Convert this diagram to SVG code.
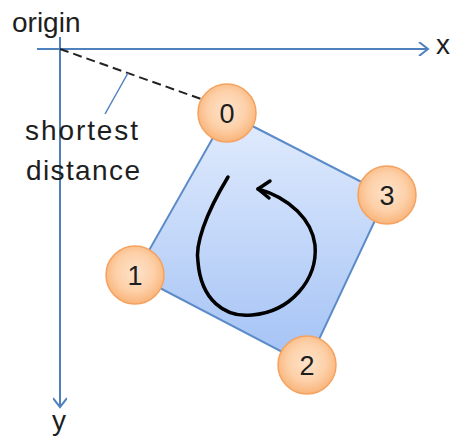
<svg xmlns="http://www.w3.org/2000/svg" width="457" height="438" viewBox="0 0 457 438">
<defs>
<linearGradient id="sq" x1="0" y1="0" x2="0" y2="1">
<stop offset="0" stop-color="#e2ecfd"/>
<stop offset="1" stop-color="#a3c2f5"/>
</linearGradient>
<radialGradient id="ci" cx="0.5" cy="0.45" r="0.55">
<stop offset="0" stop-color="#fee3cb"/>
<stop offset="0.6" stop-color="#fdd0a8"/>
<stop offset="1" stop-color="#f9b47a"/>
</radialGradient>
<marker id="open" markerWidth="14" markerHeight="14" refX="11" refY="7" orient="auto" markerUnits="userSpaceOnUse">
<path d="M2,0 L11,7 L2,14" fill="none" stroke="#4f81bd" stroke-width="2"/>
</marker>
</defs>
<style>
.lbl{font-family:"Liberation Sans",Arial,sans-serif;font-size:28px;fill:#1e1e1e}
.num{font-family:"Liberation Sans",Arial,sans-serif;font-size:27px;fill:#1e1e1e;text-anchor:middle}
.axis{stroke:#4f81bd;stroke-width:2;fill:none}
.corner{fill:url(#ci);stroke:#f5a25f;stroke-width:1.5}
</style>
<g id="connectors">
<line class="axis" x1="37" y1="49" x2="428" y2="49" marker-end="url(#open)"/>
<line class="axis" x1="60" y1="37" x2="60" y2="407" marker-end="url(#open)"/>
<line x1="60" y1="49" x2="201" y2="99" stroke="#222" stroke-width="2" stroke-dasharray="9,5"/>
<line x1="128" y1="73" x2="105" y2="114" stroke="#4f81bd" stroke-width="1.5"/>
</g>
<g id="square">
<polygon points="227,113 387,195 307,365 135,275" fill="url(#sq)" stroke="#5b8bc8" stroke-width="2"/>
<path d="M228,177 C205,215 195,245 198,262 C201,300 225,318 252,315 C290,312 318,280 315,245 C312,220 290,198 258,189" fill="none" stroke="#000" stroke-width="3.5" stroke-linecap="round"/>
<path d="M270,181 L258,189 L269,198" fill="none" stroke="#000" stroke-width="3.5" stroke-linecap="round" stroke-linejoin="round"/>
</g>
<g id="labels">
<text class="lbl" x="12" y="32">origin</text>
<text class="lbl" x="436" y="54">x</text>
<text class="lbl" x="52" y="430">y</text>
<text class="lbl" x="25" y="140" textLength="113">shortest</text>
<text class="lbl" x="26" y="180" textLength="114">distance</text>
</g>
<g id="c0"><circle class="corner" cx="227" cy="113" r="29"/><text class="num" x="227" y="123">0</text></g>
<g id="c3"><circle class="corner" cx="387" cy="195" r="29"/><text class="num" x="387" y="205">3</text></g>
<g id="c2"><circle class="corner" cx="307" cy="365" r="29"/><text class="num" x="307" y="375">2</text></g>
<g id="c1"><circle class="corner" cx="135" cy="275" r="29"/><text class="num" x="135" y="285">1</text></g>
</svg>
